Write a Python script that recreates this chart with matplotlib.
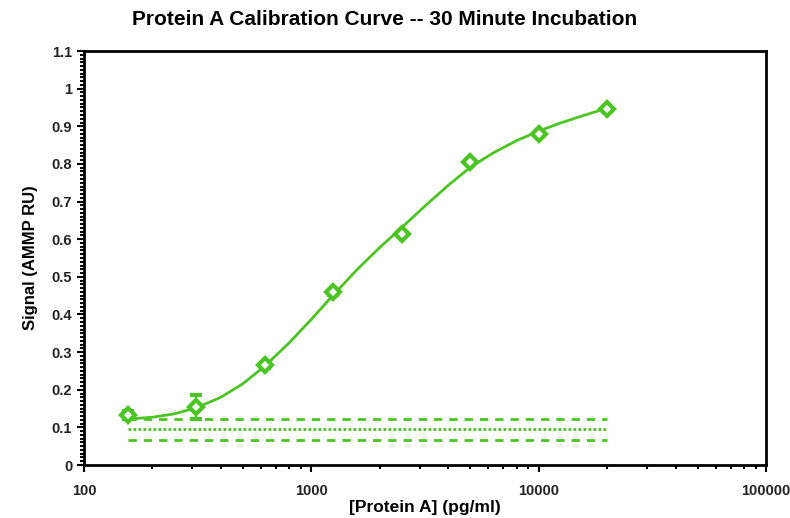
import matplotlib.pyplot as plt
from matplotlib.ticker import MultipleLocator, LogLocator, FixedLocator, NullFormatter

plt.rcParams['font.family'] = ['Liberation Sans', 'DejaVu Sans']

# standards (pg/ml) and measured signal
conc = [156, 312, 625, 1250, 2500, 5000, 10000, 20000]
signal = [0.133, 0.154, 0.265, 0.459, 0.615, 0.806, 0.880, 0.946]
err = [0.010, 0.033, 0.006, 0.006, 0.005, 0.005, 0.005, 0.005]

# fitted curve
fit_x = [156, 200, 250, 312, 400, 500, 625, 800, 1000, 1250, 1600, 2000,
         2500, 3200, 4000, 5000, 6300, 8000, 10000, 12500, 16000, 20000]
fit_y = [0.122, 0.127, 0.136, 0.152, 0.180, 0.216, 0.263, 0.325, 0.387, 0.452,
         0.521, 0.578, 0.631, 0.691, 0.743, 0.791, 0.829, 0.862, 0.887, 0.909,
         0.930, 0.948]

# blank-based limit lines
limit_x = [156, 20000]
upper_lim = 0.122
mid_lim = 0.095
lower_lim = 0.066

y_ticks = [0, 0.1, 0.2, 0.3, 0.4, 0.5, 0.6, 0.7, 0.8, 0.9, 1.0, 1.1]
y_labels = ['0', '0.1', '0.2', '0.3', '0.4', '0.5', '0.6', '0.7', '0.8',
            '0.9', '1', '1.1']
x_ticks = [100, 1000, 10000, 100000]
x_labels = ['100', '1000', '10000', '100000']

green = '#4cc424'

fig = plt.figure(figsize=(7.9, 5.18), dpi=100)
ax = fig.add_axes([0.1063, 0.1023, 0.8633, 0.7992])

ax.plot(fit_x, fit_y, '-', color=green, linewidth=2)
ax.errorbar(conc, signal, yerr=err, fmt='D', color=green, markersize=7,
            markerfacecolor='white', markeredgewidth=3, elinewidth=1.5,
            capsize=4, capthick=1.5)
ax.plot(limit_x, [upper_lim] * 2, color=green, linewidth=2, linestyle=(0, (3, 2.5)))
ax.plot(limit_x, [mid_lim] * 2, color=green, linewidth=2, linestyle=(0, (1, 0.8)))
ax.plot(limit_x, [lower_lim] * 2, color=green, linewidth=2, linestyle=(0, (3, 2.5)))

ax.set_xscale('log')
ax.set_xlim(100, 100000)
ax.set_ylim(0, 1.1)
ax.xaxis.set_major_locator(FixedLocator(x_ticks))
ax.xaxis.set_minor_locator(LogLocator(base=10, subs=range(2, 10)))
ax.xaxis.set_minor_formatter(NullFormatter())
ax.set_xticklabels(x_labels)
ax.yaxis.set_major_locator(FixedLocator(y_ticks))
ax.yaxis.set_minor_locator(MultipleLocator(0.01))
ax.set_yticklabels(y_labels)

ax.tick_params(which='major', direction='out', length=5, width=1.5, labelsize=10.5)
ax.tick_params(which='minor', direction='out', length=3, width=1.5)
ax.tick_params(axis='x', pad=9)
for lab in ax.get_xticklabels() + ax.get_yticklabels():
    lab.set_fontweight('bold')
    lab.set_color('#222222')
for sp in ax.spines.values():
    sp.set_linewidth(2)

ax.set_xlabel('[Protein A] (pg/ml)', fontsize=12.5, fontweight='bold', labelpad=1)
ax.set_ylabel('Signal (AMMP RU)', fontsize=12, fontweight='bold', labelpad=10)
fig.text(0.487, 0.963, 'Protein A Calibration Curve -- 30 Minute Incubation',
         ha='center', va='center', fontsize=15, fontweight='bold')

fig.savefig('out.png', dpi=100)
